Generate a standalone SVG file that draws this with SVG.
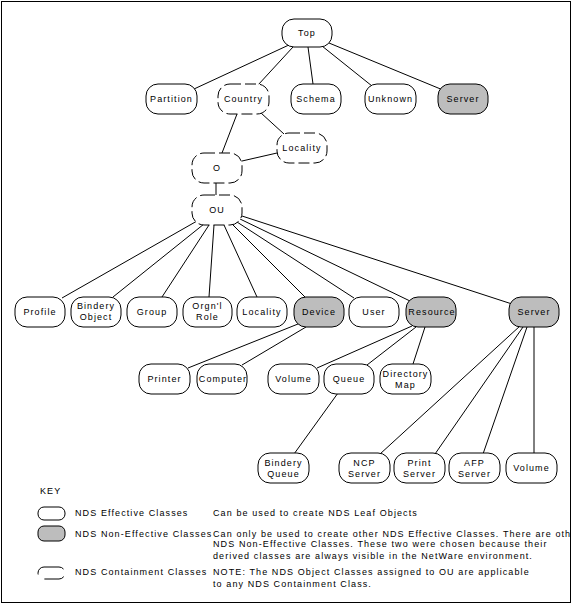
<svg xmlns="http://www.w3.org/2000/svg" width="572" height="605" viewBox="0 0 572 605">
<style>
.n{fill:#fff;stroke:#000;stroke-width:1}
.g{fill:#bdbdbd;stroke:#000;stroke-width:1}
.d{fill:#fff;stroke:#000;stroke-width:1;stroke-dasharray:11 4}
text{font-family:"Liberation Sans",Arial,sans-serif;font-size:9px;letter-spacing:1.1px;fill:#000}
.c text{text-anchor:middle}
#edges line{stroke:#000;stroke-width:1}
</style>
<defs><clipPath id="frame"><rect x="2" y="2" width="568" height="600"/></clipPath></defs>
<rect x="1.5" y="1.5" width="569" height="601" fill="#fff" stroke="#000" stroke-width="1"/>
<g id="edges">
<line x1="291" y1="44" x2="194" y2="89"/>
<line x1="293" y1="47" x2="258" y2="85"/>
<line x1="308" y1="47" x2="313" y2="84"/>
<line x1="322" y1="46" x2="372" y2="86"/>
<line x1="329" y1="43" x2="443" y2="90"/>
<line x1="237" y1="114" x2="222" y2="153"/>
<line x1="261" y1="113" x2="284" y2="134"/>
<line x1="242" y1="161" x2="277" y2="153"/>
<line x1="216" y1="183" x2="216" y2="195"/>
<line x1="197" y1="221" x2="62" y2="298"/>
<line x1="204" y1="224" x2="113" y2="297"/>
<line x1="209" y1="225" x2="162" y2="297"/>
<line x1="214" y1="225" x2="209" y2="297"/>
<line x1="224" y1="225" x2="257" y2="297"/>
<line x1="232" y1="224" x2="305" y2="297"/>
<line x1="237" y1="222" x2="354" y2="298"/>
<line x1="240" y1="219" x2="410" y2="301"/>
<line x1="242" y1="216" x2="512" y2="304"/>
<line x1="298" y1="324" x2="188" y2="368"/>
<line x1="306" y1="327" x2="242" y2="365"/>
<line x1="412" y1="326" x2="317" y2="368"/>
<line x1="416" y1="327" x2="367" y2="365"/>
<line x1="425" y1="327" x2="413" y2="364"/>
<line x1="338" y1="393" x2="294" y2="454"/>
<line x1="520" y1="326" x2="380" y2="454"/>
<line x1="523" y1="327" x2="435" y2="454"/>
<line x1="527" y1="327" x2="483" y2="454"/>
<line x1="534" y1="327" x2="534" y2="454"/>
</g>
<g class="c">
<g id="top"><rect class="n" x="282" y="19" width="50" height="28" rx="12"/><text x="307" y="36">Top</text></g>
<g id="partition"><rect class="n" x="146" y="84" width="51" height="30" rx="12"/><text x="171.5" y="102">Partition</text></g>
<g id="country"><rect class="d" x="218" y="84" width="51" height="30" rx="12"/><text x="243.5" y="102">Country</text></g>
<g id="schema"><rect class="n" x="291" y="84" width="50" height="30" rx="12"/><text x="316" y="102">Schema</text></g>
<g id="unknown"><rect class="n" x="365" y="84" width="51" height="30" rx="12"/><text x="390.5" y="102">Unknown</text></g>
<g id="server1"><rect class="g" x="438" y="84" width="50" height="30" rx="12"/><text x="463" y="102">Server</text></g>
<g id="locality1"><rect class="d" x="277" y="133" width="50" height="30" rx="12"/><text x="302" y="151">Locality</text></g>
<g id="o"><rect class="d" x="192" y="153" width="50" height="30" rx="12"/><text x="217" y="171">O</text></g>
<g id="ou"><rect class="d" x="192" y="195" width="50" height="30" rx="12"/><text x="217" y="213">OU</text></g>
<g id="profile"><rect class="n" x="15" y="297" width="50" height="30" rx="12"/><text x="40" y="315">Profile</text></g>
<g id="bindery-object"><rect class="n" x="71" y="297" width="50" height="30" rx="12"/><text x="96" y="309">Bindery</text><text x="96" y="320">Object</text></g>
<g id="group"><rect class="n" x="127" y="297" width="50" height="30" rx="12"/><text x="152" y="315">Group</text></g>
<g id="orgnl-role"><rect class="n" x="183" y="297" width="49" height="30" rx="12"/><text x="207.5" y="309">Orgn'l</text><text x="207.5" y="320">Role</text></g>
<g id="locality2"><rect class="n" x="237" y="297" width="50" height="30" rx="12"/><text x="262" y="315">Locality</text></g>
<g id="device"><rect class="g" x="294" y="297" width="50" height="30" rx="12"/><text x="319" y="315">Device</text></g>
<g id="user"><rect class="n" x="349" y="297" width="50" height="30" rx="12"/><text x="374" y="315">User</text></g>
<g id="resource"><rect class="g" x="406" y="297" width="50" height="30" rx="12"/><text x="432" y="315">Resource</text></g>
<g id="server2"><rect class="g" x="509" y="297" width="50" height="30" rx="12"/><text x="534" y="315">Server</text></g>
<g id="printer"><rect class="n" x="139" y="364" width="51" height="30" rx="12"/><text x="164.5" y="382">Printer</text></g>
<g id="computer"><rect class="n" x="197" y="364" width="50" height="30" rx="12"/><text x="223" y="382">Computer</text></g>
<g id="volume1"><rect class="n" x="268" y="364" width="51" height="30" rx="12"/><text x="293.5" y="382">Volume</text></g>
<g id="queue"><rect class="n" x="324" y="364" width="50" height="30" rx="12"/><text x="349" y="382">Queue</text></g>
<g id="directory-map"><rect class="n" x="380" y="364" width="51" height="30" rx="12"/><text x="405.5" y="377">Directory</text><text x="405.5" y="388">Map</text></g>
<g id="bindery-queue"><rect class="n" x="258" y="453" width="51" height="30" rx="12"/><text x="283.5" y="466">Bindery</text><text x="283.5" y="477">Queue</text></g>
<g id="ncp-server"><rect class="n" x="339" y="453" width="51" height="30" rx="12"/><text x="364.5" y="466">NCP</text><text x="364.5" y="477">Server</text></g>
<g id="print-server"><rect class="n" x="394" y="453" width="51" height="30" rx="12"/><text x="419.5" y="466">Print</text><text x="419.5" y="477">Server</text></g>
<g id="afp-server"><rect class="n" x="449" y="453" width="51" height="30" rx="12"/><text x="474.5" y="466">AFP</text><text x="474.5" y="477">Server</text></g>
<g id="volume2"><rect class="n" x="506" y="453" width="51" height="30" rx="12"/><text x="531.5" y="471">Volume</text></g>
</g>
<g id="key" clip-path="url(#frame)">
<text x="40" y="494">KEY</text>
<rect class="n" x="38" y="507" width="27" height="13" rx="6"/>
<rect class="g" x="38" y="526" width="27" height="15" rx="6"/>
<rect class="d" x="38" y="567" width="27" height="12" rx="6" style="stroke-dasharray:20 8"/>
<text x="75" y="516">NDS Effective Classes</text>
<text x="213" y="516">Can be used to create NDS Leaf Objects</text>
<text x="75" y="537">NDS Non-Effective Classes</text>
<text x="213" y="537">Can only be used to create other NDS Effective Classes. There are oth</text>
<text x="213" y="547">NDS Non-Effective Classes. These two were chosen because their</text>
<text x="213" y="559">derived classes are always visible in the NetWare environment.</text>
<text x="75" y="575">NDS Containment Classes</text>
<text x="213" y="575">NOTE: The NDS Object Classes assigned to OU are applicable</text>
<text x="213" y="587">to any NDS Containment Class.</text>
</g>
</svg>
